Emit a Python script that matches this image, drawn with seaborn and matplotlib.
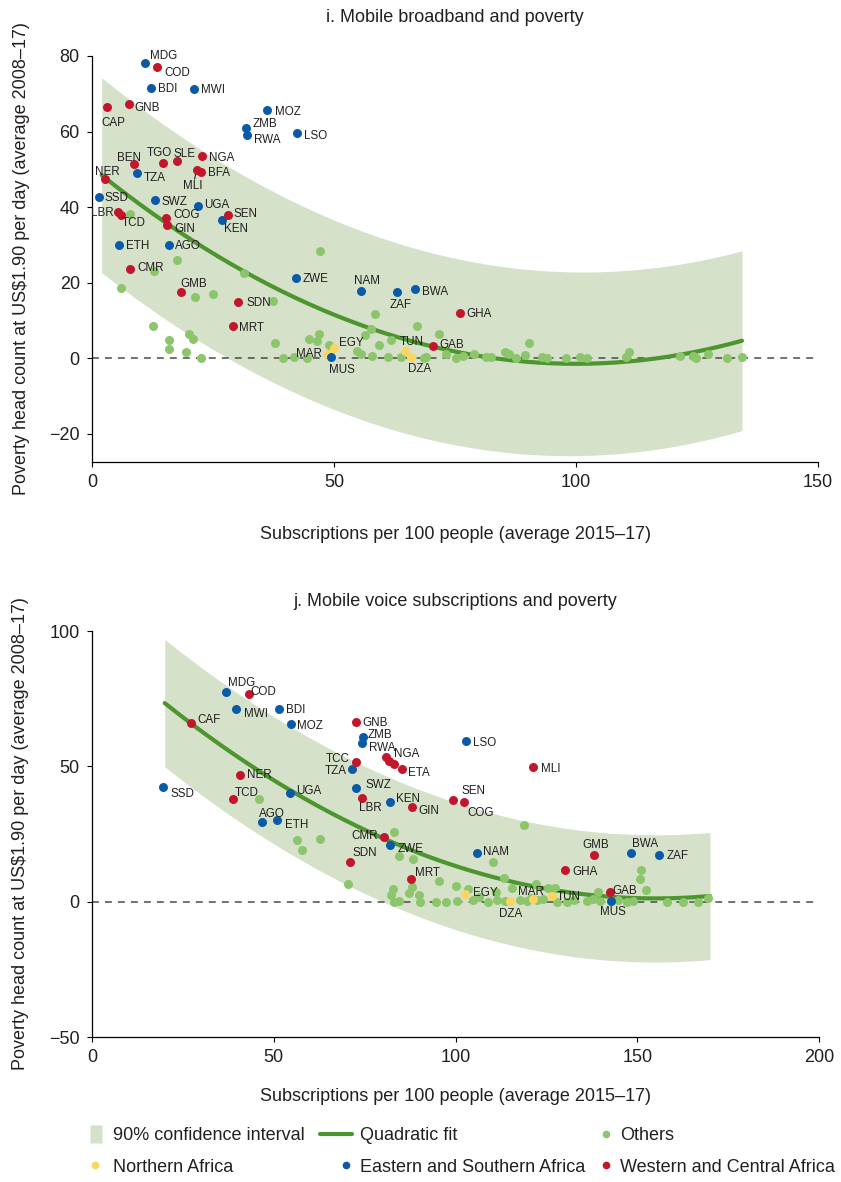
import numpy as np
import pandas as pd
import matplotlib
matplotlib.use("Agg")
import matplotlib.pyplot as plt
import seaborn as sns
from matplotlib.lines import Line2D

sns.set_theme(style="ticks")
plt.rcParams["font.family"] = ["Liberation Sans", "DejaVu Sans"]
plt.rcParams["axes.unicode_minus"] = True

# ---------------------------------------------------------------- data
REGIONS = ["Others", "Northern Africa", "Eastern and Southern Africa",
           "Western and Central Africa"]

# i. Mobile broadband: labelled African economies
bb_codes = ["MDG", "COD", "BDI", "MWI", "GNB", "CAP", "MOZ", "ZMB", "RWA", "LSO",
            "BEN", "TGO", "SLE", "NGA", "MLI", "BFA", "TZA", "NER", "SSD", "SWZ",
            "UGA", "LBR", "TCD", "SEN", "KEN", "COG", "GIN", "ETH", "AGO", "CMR",
            "GMB", "SDN", "MRT", "ZWE", "MAR", "EGY", "MUS", "NAM", "ZAF", "BWA",
            "GHA", "GAB", "TUN", "DZA"]
bb_subs = [10.9, 13.4, 12.1, 21.1, 7.6, 3.2, 36.1, 31.8, 32.1, 42.3,
           8.6, 14.6, 17.6, 22.7, 21.6, 22.5, 9.4, 2.7, 1.4, 13.0,
           22.0, 5.4, 6.0, 28.0, 26.9, 15.3, 15.5, 5.6, 15.9, 7.8,
           18.4, 30.2, 29.1, 42.1, 48.5, 49.9, 49.3, 55.6, 63.0, 66.7,
           76.1, 70.5, 64.7, 66.0]
bb_pov = [78.2, 77.2, 71.6, 71.3, 67.2, 66.4, 65.7, 60.9, 59.1, 59.5,
          51.3, 51.6, 52.2, 53.4, 49.8, 49.3, 49.1, 47.3, 42.7, 42.0,
          40.4, 38.8, 38.0, 37.9, 36.6, 37.0, 35.2, 29.9, 30.0, 23.7,
          17.6, 14.9, 8.4, 21.3, 1.0, 2.6, 0.4, 17.9, 17.4, 18.2,
          11.9, 3.3, 1.9, 0.4]
bb_region = ["E", "W", "E", "E", "W", "W", "E", "E", "E", "E",
             "W", "W", "W", "W", "W", "W", "E", "W", "E", "E",
             "E", "W", "W", "W", "E", "W", "W", "E", "E", "W",
             "W", "W", "W", "E", "N", "N", "E", "E", "E", "E",
             "W", "W", "N", "N"]

# i. Mobile broadband: other economies
bb_other_subs = [7.9, 17.6, 12.8, 5.9, 21.3, 24.9, 31.4, 37.3, 47.2, 12.5,
                 16.0, 16.0, 20.0, 20.9, 19.4, 22.5, 37.9, 39.5, 41.7, 44.5,
                 44.9, 46.4, 46.8, 48.9, 58.5, 67.1, 57.7, 56.5, 61.7, 59.4,
                 54.8, 55.6, 57.9, 61.2, 63.8, 68.5, 69.0, 71.6, 73.1, 75.3,
                 76.7, 78.9, 81.5, 82.5, 85.3, 86.2, 87.5, 89.5, 90.3, 93.0,
                 94.0, 98.0, 100.8, 102.2, 110.3, 111.0, 121.5, 124.2, 124.7,
                 127.2, 131.1, 134.4]
bb_other_pov = [38.1, 26.1, 23.1, 18.7, 16.2, 17.0, 22.6, 15.0, 28.5, 8.6,
                4.7, 2.4, 6.5, 5.1, 1.5, 0.0, 4.0, 0.0, 0.2, 0.0,
                5.2, 4.6, 6.5, 3.4, 11.7, 8.5, 7.7, 6.1, 4.9, 3.4,
                1.9, 1.0, 0.5, 0.4, 0.4, 0.0, 0.2, 6.3, 1.2, 0.0,
                0.5, 1.0, 0.3, 0.3, 1.6, 1.0, 0.0, 0.8, 4.1, 0.4,
                0.0, 0.0, 0.2, 0.0, 0.2, 1.5, 0.6, 0.6, 0.0,
                1.1, 0.0, 0.4]

# i. quadratic fit in vertex form (x0, y0, curvature), x range, and the
# half-width of the 90% interval at the two ends of that range
bb_fit = (100.0, -1.5, 0.0052)
bb_fit_range = (2.0, 134.3)
bb_ci_half = (25.8, 23.8)

# j. Mobile voice: labelled African economies ("" = unlabelled)
mv_codes = ["MDG", "COD", "MWI", "BDI", "MOZ", "CAF", "NER", "SSD", "TCD", "UGA",
            "AGO", "ETH", "GNB", "ZMB", "RWA", "TCC", "TZA", "NGA", "", "",
            "ETA", "LSO", "MLI", "SWZ", "LBR", "KEN", "GIN", "SEN", "COG", "CMR",
            "ZWE", "SDN", "MRT", "NAM", "GMB", "BWA", "ZAF", "GHA", "GAB", "MUS",
            "EGY", "DZA", "MAR", "TUN"]
mv_subs = [36.9, 43.1, 39.6, 51.5, 54.7, 27.2, 40.7, 19.5, 38.9, 54.6,
           46.8, 50.8, 72.7, 74.5, 74.2, 72.7, 71.6, 80.9, 81.8, 83.1,
           85.4, 102.8, 121.3, 72.7, 74.4, 82.1, 88.1, 99.2, 102.3, 80.4,
           82.1, 70.9, 87.8, 105.9, 138.2, 148.2, 156.1, 130.2, 142.5, 142.9,
           102.6, 115.1, 121.4, 126.5]
mv_pov = [77.5, 76.8, 71.0, 71.3, 65.6, 65.9, 46.7, 42.3, 38.0, 40.0,
          29.5, 30.0, 66.5, 60.8, 58.8, 51.5, 49.0, 53.3, 52.0, 50.9,
          49.1, 59.3, 49.6, 41.9, 38.3, 36.7, 34.8, 37.6, 36.7, 23.9,
          21.1, 14.6, 8.5, 18.0, 17.3, 18.1, 17.3, 11.6, 3.7, 0.3,
          3.0, 0.3, 1.0, 2.0]
mv_region = ["E", "W", "E", "E", "E", "W", "W", "E", "W", "E",
             "E", "E", "W", "E", "E", "W", "E", "W", "W", "W",
             "W", "E", "W", "E", "W", "E", "W", "W", "W", "W",
             "E", "W", "W", "E", "W", "E", "E", "W", "W", "E",
             "N", "N", "N", "N"]

# j. Mobile voice: other economies
mv_other_subs = [46.0, 56.3, 62.7, 57.8, 118.9, 83.1, 84.5, 88.4, 110.2, 70.3,
                 95.5, 100.0, 103.5, 111.1, 113.4, 115.5, 122.1, 125.5, 127.4,
                 150.9, 150.8, 152.3, 139.1, 169.6, 82.9, 82.2, 87.3, 87.9, 90.0,
                 83.1, 84.5, 90.2, 94.6, 97.4, 100.5, 104.9, 109.0, 111.3, 113.6,
                 117.7, 119.6, 122.3, 124.2, 127.8, 130.6, 136.1, 139.8, 144.8,
                 147.1, 148.9, 158.1, 162.7, 166.6, 137.8, 132.5, 106.5, 120.8]
mv_other_pov = [37.8, 22.6, 23.2, 19.2, 28.3, 25.7, 16.7, 15.9, 14.5, 6.5,
                7.7, 5.9, 4.7, 3.4, 8.7, 5.0, 6.6, 5.0, 5.0,
                11.6, 8.4, 4.2, 3.7, 1.4, 4.7, 2.6, 3.2, 5.6, 2.6,
                0.0, 0.3, 0.0, 0.0, 0.0, 0.3, 0.7, 0.0, 0.7, 0.3,
                0.7, 0.3, 0.7, 1.1, 0.0, 0.0, 0.2, 0.3, 0.5,
                0.0, 0.3, 0.0, 0.0, 0.0, 1.0, 0.5, 1.8, 1.5]

# j. quadratic fit
mv_fit = (155.0, 1.2, 0.00396)
mv_fit_range = (20.0, 170.0)
mv_ci_half = (23.5, 23.5)

# ---------------------------------------------------------------- styling
COLORS = {"Others": "#8cc56c", "Northern Africa": "#fcd460",
          "Eastern and Southern Africa": "#0a5aa8",
          "Western and Central Africa": "#c3162c"}
REGION_KEY = {"N": "Northern Africa", "E": "Eastern and Southern Africa",
              "W": "Western and Central Africa"}
BAND = "#d5e2c9"
FIT = "#4d952e"
TEXT = "#231f20"

# label placement: (dx px, dy px of the cap-height centre, horizontal alignment)
bb_label_pos = {
    "MDG": (5, 8, "left"), "COD": (8, -5, "left"), "BDI": (7, 0, "left"),
    "MWI": (7, 0, "left"), "GNB": (6, -2, "left"), "CAP": (6, -14, "center"),
    "MOZ": (8, -1, "left"), "ZMB": (7, 5, "left"), "RWA": (7, -4, "left"),
    "LSO": (7, -1, "left"), "BEN": (-5, 8, "center"), "TGO": (-3, 11, "center"),
    "SLE": (7, 8, "center"), "NGA": (7, 0, "left"), "BFA": (7, 0, "left"),
    "MLI": (-4, -15, "center"), "TZA": (6, -4, "left"), "NER": (2, 9, "center"),
    "SSD": (6, 0, "left"), "SWZ": (7, -1, "left"), "UGA": (6, 2, "left"),
    "LBR": (-5, 0, "right"), "TCD": (13, -7, "center"), "SEN": (6, 2, "left"),
    "KEN": (14, -8, "center"), "COG": (7, 5, "left"), "GIN": (7, -3, "left"),
    "ETH": (7, 0, "left"), "AGO": (6, 0, "left"), "CMR": (8, 2, "left"),
    "GMB": (13, 9, "center"), "SDN": (8, 0, "left"), "MRT": (6, 0, "left"),
    "ZWE": (7, 0, "left"), "MAR": (-5, 2, "right"), "EGY": (5, 7, "left"),
    "MUS": (11, -12, "center"), "NAM": (6, 11, "center"), "ZAF": (4, -11, "center"),
    "BWA": (7, -1, "left"), "GHA": (6, 0, "left"), "GAB": (6, 2, "left"),
    "TUN": (7, 10, "center"), "DZA": (8, -11, "center"),
}
mv_label_pos = {
    "MDG": (2, 10, "left"), "COD": (2, 3, "left"), "MWI": (8, -3, "left"),
    "BDI": (7, 0, "left"), "MOZ": (6, -1, "left"), "CAF": (7, 4, "left"),
    "NER": (7, 1, "left"), "SSD": (8, -6, "left"), "TCD": (1, 7, "left"),
    "UGA": (6, 4, "left"), "AGO": (-3, 9, "left"), "ETH": (8, -3, "left"),
    "GNB": (6, 0, "left"), "ZMB": (5, 3, "left"), "RWA": (7, -4, "left"),
    "TCC": (-7, 4, "right"), "TZA": (-6, -1, "right"), "NGA": (8, 5, "left"),
    "ETA": (6, -3, "left"), "LSO": (7, -1, "left"), "MLI": (8, 0, "left"),
    "SWZ": (9, 4, "left"), "LBR": (-3, -9, "left"), "KEN": (6, 5, "left"),
    "GIN": (6, -2, "left"), "SEN": (9, 10, "left"), "COG": (4, -9, "left"),
    "CMR": (-6, 2, "right"), "ZWE": (7, -3, "left"), "SDN": (3, 10, "left"),
    "MRT": (4, 7, "left"), "NAM": (6, 2, "left"), "GMB": (1, 11, "center"),
    "BWA": (1, 10, "left"), "ZAF": (7, 0, "left"), "GHA": (7, -1, "left"),
    "GAB": (2, 2, "left"), "MUS": (1, -10, "center"), "EGY": (8, 2, "left"),
    "DZA": (0, -12, "center"), "MAR": (-15, 8, "left"), "TUN": (5, 0, "left"),
}

PX = 0.72  # points per pixel at 100 dpi
FS = 13
LABEL_FS = 8.4


def build_frame(codes, subs, pov, region, other_subs, other_pov):
    others = pd.DataFrame({"code": "", "subs": other_subs, "pov": other_pov,
                           "region": "Others"})
    africa = pd.DataFrame({"code": codes, "subs": subs, "pov": pov,
                           "region": [REGION_KEY[r] for r in region]})
    return pd.concat([others, africa], ignore_index=True)


def draw_panel(ax, df, fit, fit_range, half, label_pos, title, xlim, ylim,
               xticks, yticks, title_y, xlabel_y, leader=None):
    x0, y0, c = fit
    xs = np.linspace(fit_range[0], fit_range[1], 200)
    frac = (xs - fit_range[0]) / (fit_range[1] - fit_range[0])
    hw = half[0] + (half[1] - half[0]) * frac
    curve = pd.DataFrame({"subs": xs, "pov": y0 + c * (xs - x0) ** 2})
    ax.fill_between(curve["subs"], curve["pov"] - hw, curve["pov"] + hw,
                    color=BAND, linewidth=0, zorder=1)
    ax.axhline(0, color="#4a4a4a", lw=1.1, ls=(0, (4.5, 4)), zorder=2)
    sns.lineplot(data=curve, x="subs", y="pov", color=FIT, lw=3.0, ax=ax,
                 zorder=3)
    for reg in REGIONS:
        sub = df[df["region"] == reg]
        sns.scatterplot(data=sub, x="subs", y="pov", color=COLORS[reg], s=42,
                        linewidth=0, ax=ax, zorder=4, legend=False)
    for _, row in df[df["code"] != ""].iterrows():
        dx, dy, ha = label_pos[row["code"]]
        ax.annotate(row["code"], (row["subs"], row["pov"]),
                    xytext=(dx * PX, (dy - 4.2) * PX), textcoords="offset points",
                    ha=ha, va="baseline", fontsize=LABEL_FS, color=TEXT, zorder=5)
    if leader is not None:
        code, (lx, ly) = leader
        r = df[df["code"] == code].iloc[0]
        ax.annotate("", (r["subs"], r["pov"]), xytext=(lx * PX, ly * PX),
                    textcoords="offset points",
                    arrowprops=dict(arrowstyle="-", color=TEXT, lw=0.8,
                                    shrinkA=0, shrinkB=2))
    ax.set_xlim(*xlim)
    ax.set_ylim(*ylim)
    ax.set_xticks(xticks)
    ax.set_yticks(yticks)
    ax.tick_params(axis="both", direction="out", length=3.8, width=0.8,
                   color="black", labelsize=FS, labelcolor=TEXT, pad=5)
    sns.despine(ax=ax)
    for s in ("left", "bottom"):
        ax.spines[s].set_color("black")
        ax.spines[s].set_linewidth(0.9)
    ax.set_xlabel("Subscriptions per 100 people (average 2015–17)",
                  fontsize=FS, color=TEXT, va="top")
    ax.set_ylabel("Poverty head count at US$1.90 per day (average 2008–17)",
                  fontsize=FS, color=TEXT)
    ax.xaxis.set_label_coords(0.5, xlabel_y)
    ax.yaxis.set_label_coords(-0.086, 0.5)
    ax.set_title(title, fontsize=FS, color=TEXT, y=title_y, va="center", pad=0)


W, H = 841, 1182
fig = plt.figure(figsize=(W / 100, H / 100), dpi=100)
ax_top = fig.add_axes([92 / W, 1 - 462 / H, 726 / W, 406 / H])
ax_bot = fig.add_axes([92 / W, 1 - 1037 / H, 727 / W, 406 / H])

bb = build_frame(bb_codes, bb_subs, bb_pov, bb_region, bb_other_subs, bb_other_pov)
mv = build_frame(mv_codes, mv_subs, mv_pov, mv_region, mv_other_subs, mv_other_pov)

draw_panel(ax_top, bb, bb_fit, bb_fit_range, bb_ci_half, bb_label_pos,
           "i. Mobile broadband and poverty", (0, 150), (-27.5, 80),
           [0, 50, 100, 150], [-20, 0, 20, 40, 60, 80],
           title_y=(462 - 17) / 406, xlabel_y=(462 - 526) / 406,
           leader=("MLI", (-2, -9)))
draw_panel(ax_bot, mv, mv_fit, mv_fit_range, mv_ci_half, mv_label_pos,
           "j. Mobile voice subscriptions and poverty", (0, 200), (-50, 100),
           [0, 50, 100, 150, 200], [-50, 0, 50, 100],
           title_y=(1037 - 602) / 406, xlabel_y=(1037 - 1088) / 406)

# legend: three aligned columns in two rows
rect = [(-0.65, -1), (0.65, -1), (0.65, 1), (-0.65, 1)]


def dot(color):
    return Line2D([], [], ls="none", marker="o", markersize=5.5, mfc=color,
                  mec="none")


# (handle, label, handle left px, row centre px, handle length, text pad)
entries = [
    (Line2D([], [], ls="none", marker=rect, markersize=12.5, mfc=BAND, mec="none"),
     "90% confidence interval", 88, 1136, 0.89, 0.47),
    (Line2D([], [], color=FIT, lw=3.0), "Quadratic fit", 320, 1136, 1.78, 0.44),
    (dot(COLORS["Others"]), "Others", 599, 1136, 0.8, 0.38),
    (dot(COLORS["Northern Africa"]), "Northern Africa", 88, 1167, 0.8, 0.57),
    (dot(COLORS["Eastern and Southern Africa"]), "Eastern and Southern Africa",
     339, 1167, 0.8, 0.38),
    (dot(COLORS["Western and Central Africa"]), "Western and Central Africa",
     599, 1167, 0.8, 0.38),
]
for handle, label, xp, yp, hl, pad in entries:
    leg = fig.legend([handle], [label], loc="center left",
                     bbox_to_anchor=(xp / W, 1 - yp / H), frameon=False,
                     fontsize=FS, handlelength=hl, handletextpad=pad,
                     borderpad=0, borderaxespad=0)
    for t in leg.get_texts():
        t.set_color(TEXT)

fig.savefig("out.png", dpi=100)
